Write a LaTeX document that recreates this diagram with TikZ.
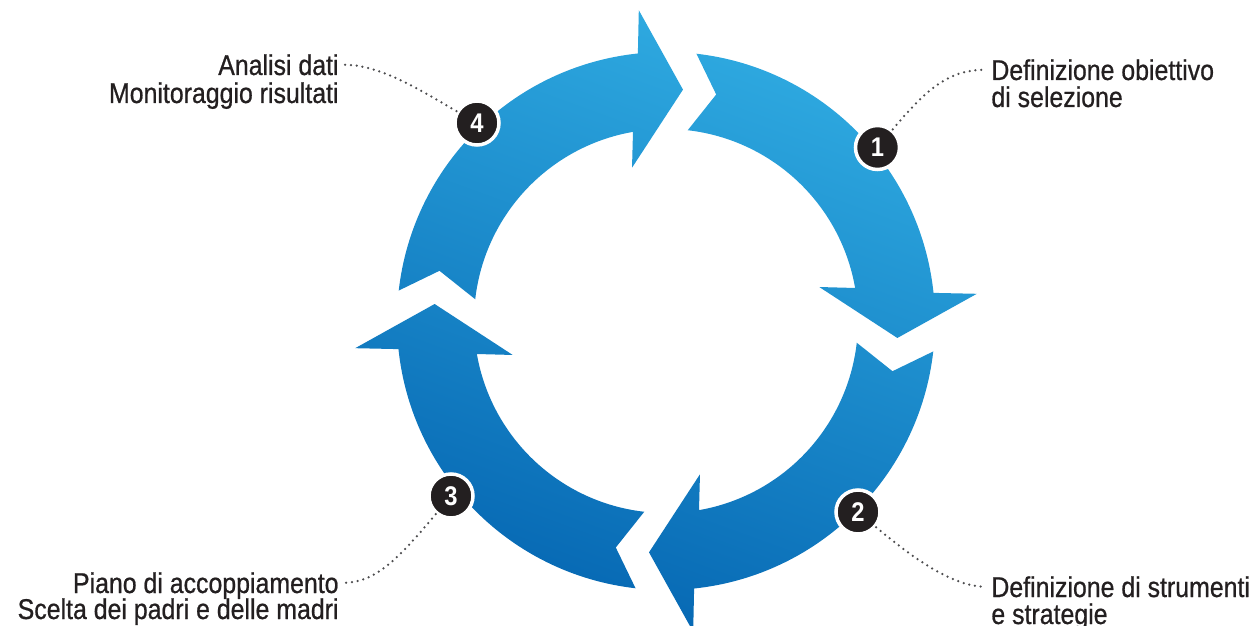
\documentclass[tikz,border=0pt]{standalone}
\usepackage{fontspec}
\newfontfamily\labelfont{Liberation Sans}[FakeStretch=0.87,FakeBold=0.7]
\newfontfamily\badgefont{Liberation Sans}[FakeStretch=0.88]
\definecolor{ringtop}{HTML}{30ACE2}
\definecolor{ringmid}{HTML}{1B8CCE}
\definecolor{ringbot}{HTML}{0566B2}
\definecolor{badgeblack}{HTML}{231F20}
\definecolor{labeltext}{HTML}{231F20}
\definecolor{dotgray}{HTML}{4D4D4F}
\newcommand\ringarrow[1]{%
  (#1+83.5:269) arc[start angle=#1+83.5, end angle=#1+6, radius=269]
  -- (#1+5:312) -- (#1-4.2:232) -- (#1+12.5:157) -- (#1+9.9:192)
  arc[start angle=#1+9.9, end angle=#1+83.5, radius=192]
  -- (#1+77.5:232) -- cycle}
\begin{document}
\begin{tikzpicture}[x=0.5pt,y=0.5pt,
    badge/.style={circle,fill=badgeblack,draw=white,line width=1.75pt,minimum size=22pt,inner sep=0pt,
      text=white,font=\badgefont\bfseries\fontsize{13.5pt}{13.5pt}\selectfont},
    lbl/.style={text=labeltext,inner xsep=2.5pt,inner ysep=0pt,text height=10.25pt,text depth=0pt,
      font=\labelfont\fontsize{14.3pt}{16pt}\selectfont},
    conn/.style={dotgray,line width=1.25pt,line cap=round,dash pattern=on 0pt off 2.9pt}]
    \useasboundingbox (-666,-305) rectangle (592,321);
    \shade[top color=ringtop,middle color=ringmid,bottom color=ringbot,shading angle=-20]
      \ringarrow{0} \ringarrow{-90} \ringarrow{-180} \ringarrow{-270};
    \node[badge] (b1) at (211.5,173.5) {1};
    \node[badge] (b2) at (192,-191) {2};
    \node[badge] (b3) at (-215,-175) {3};
    \node[badge] (b4) at (-189,198) {4};
    \node[lbl,anchor=base west] (obj) at (320,241) {Definizione obiettivo};
    \node[lbl,anchor=base west] (sel) at (320,214) {di selezione};
    \node[lbl,anchor=base west] (str) at (320,-276) {Definizione di strumenti};
    \node[lbl,anchor=base west] (stg) at (320,-303) {e strategie};
    \node[lbl,anchor=base east] (acc) at (-322,-272) {Piano di accoppiamento};
    \node[lbl,anchor=base east] (pad) at (-322,-298) {Scelta dei padri e delle madri};
    \node[lbl,anchor=base east] (ana) at (-322,246) {Analisi dati};
    \node[lbl,anchor=base east] (mon) at (-322,218) {Monitoraggio risultati};
    \draw[conn] (b1) to[out=50,in=180,out distance=28pt,in distance=18pt] (obj.west);
    \draw[conn] (b2) to[out=-40,in=180,out distance=26pt,in distance=16pt] (str.west);
    \draw[conn] (b3) to[out=230,in=0,out distance=28pt,in distance=16pt] (acc.east);
    \draw[conn] (b4) to[out=150,in=0,out distance=22pt,in distance=18pt] (ana.east);
\end{tikzpicture}
\end{document}
